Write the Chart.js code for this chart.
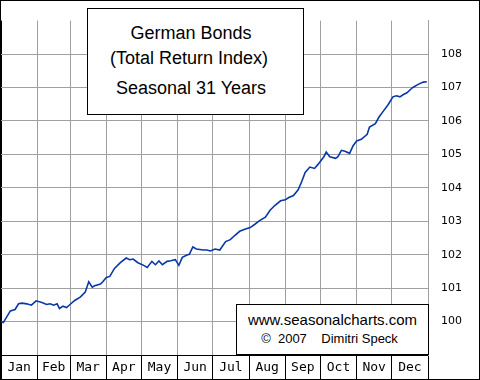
<!DOCTYPE html>
<html>
<head>
<meta charset="utf-8">
<script src="https://cdn.jsdelivr.net/npm/chart.js@4.4.0/dist/chart.umd.min.js"></script>
<style>
  body { margin: 0; background: #fff; }
  #frame { position: absolute; left: 0; top: 0; width: 480px; height: 380px; border: 1px solid #000; box-sizing: border-box; }
  #seasonalChart { display: block; }
  .box { position: absolute; background: #fff; border: 1px solid #000; box-sizing: border-box; }
  .txt { position: absolute; text-align: center; white-space: pre; font-family: "Liberation Sans", Arial, sans-serif; color: #000; }
</style>
</head>
<body>
<div id="frame"><canvas id="seasonalChart" width="478" height="378"></canvas></div>

<div class="box" style="left:87px;top:8px;width:217px;height:107px"></div>
<div class="txt" style="left:87px;width:208px;top:22px;font-size:18px;line-height:22px">German Bonds</div>
<div class="txt" style="left:87px;width:204px;top:47px;font-size:18px;line-height:22px">(Total Return Index)</div>
<div class="txt" style="left:87px;width:208px;top:77px;font-size:18px;line-height:22px">Seasonal 31 Years</div>

<div class="box" style="left:236px;top:304px;width:193px;height:51px"></div>
<div class="txt" style="left:236px;width:193px;top:311px;font-size:15px;line-height:18px">www.seasonalcharts.com</div>
<div class="txt" style="left:236px;width:187px;top:331px;font-size:13px;line-height:16px">©  2007    Dimitri Speck</div>

<script>
// month names and boundaries (day of year)
const months = ['Jan', 'Feb', 'Mar', 'Apr', 'May', 'Jun', 'Jul', 'Aug', 'Sep', 'Oct', 'Nov', 'Dec'];
const monthStarts = [0, 31, 59, 90, 120, 151, 181, 212, 243, 273, 304, 334, 365];

// y axis labels
const yTicks = [100, 101, 102, 103, 104, 105, 106, 107, 108];

// seasonal pattern
const days = [0, 2, 8, 12, 15, 18, 22, 26, 30, 35,
  39, 42, 45, 48, 50, 53, 56, 59, 63, 68,
  72, 75, 78, 80, 85, 87, 90, 93, 97, 102,
  107, 110, 113, 117, 122, 125, 129, 132, 135, 138,
  142, 145, 149, 152, 155, 159, 161, 164, 167, 173,
  176, 179, 183, 187, 192, 196, 200, 204, 209, 213,
  217, 221, 226, 230, 234, 239, 243, 246, 250, 254,
  257, 260, 264, 268, 271, 276, 278, 281, 286, 288,
  291, 294, 298, 301, 304, 308, 313, 315, 320, 323,
  327, 331, 335, 338, 341, 344, 347, 350, 352, 357,
  361, 364];
const values = [100.00, 99.97, 100.32, 100.36, 100.53, 100.55, 100.53, 100.49, 100.62, 100.57,
  100.51, 100.53, 100.49, 100.53, 100.39, 100.46, 100.42, 100.51, 100.63, 100.74,
  100.88, 101.19, 101.03, 101.07, 101.12, 101.19, 101.32, 101.35, 101.59, 101.76,
  101.90, 101.85, 101.87, 101.76, 101.68, 101.62, 101.80, 101.70, 101.81, 101.70,
  101.80, 101.82, 101.85, 101.68, 101.92, 101.99, 102.01, 102.23, 102.17, 102.14,
  102.14, 102.11, 102.17, 102.14, 102.39, 102.45, 102.58, 102.70, 102.77, 102.81,
  102.91, 103.02, 103.12, 103.33, 103.47, 103.61, 103.64, 103.71, 103.77, 103.94,
  104.18, 104.46, 104.62, 104.58, 104.70, 104.93, 105.07, 104.93, 104.88, 104.93,
  105.12, 105.09, 105.03, 105.26, 105.40, 105.45, 105.60, 105.82, 105.92, 106.11,
  106.30, 106.49, 106.72, 106.75, 106.72, 106.79, 106.84, 106.94, 107.00, 107.10,
  107.16, 107.17];

const monthMids = months.map((m, i) => (monthStarts[i] + monthStarts[i + 1]) / 2);
const isBoundary = v => monthStarts.includes(v);

const ctx = document.getElementById('seasonalChart').getContext('2d');
const seasonalChart = new Chart(ctx, {
  type: 'line',
  data: {
    datasets: [{
      data: days.map((d, i) => ({ x: d, y: values[i] })),
      borderColor: '#0838a8',
      borderWidth: 1.6,
      pointRadius: 0,
      tension: 0,
      fill: false
    }]
  },
  options: {
    responsive: false,
    devicePixelRatio: 1,
    animation: false,
    layout: { padding: 0 },
    plugins: {
      legend: { display: false },
      tooltip: { enabled: false }
    },
    scales: {
      x: {
        type: 'linear',
        position: 'bottom',
        min: 0,
        max: 365,
        afterBuildTicks: scale => {
          scale.ticks = monthStarts.concat(monthMids).sort((a, b) => a - b).map(v => ({ value: v }));
        },
        afterFit: scale => { scale.height = 24; },
        grid: {
          color: c => c.tick && c.tick.value === 0 ? '#000' : (c.tick && isBoundary(c.tick.value) ? '#a0a0a0' : 'rgba(0,0,0,0)'),
          tickColor: c => c.tick && isBoundary(c.tick.value) ? '#000' : 'rgba(0,0,0,0)',
          drawTicks: true,
          tickLength: 24,
          lineWidth: 1
        },
        border: { display: true, color: '#000', width: 1 },
        ticks: {
          autoSkip: false,
          maxRotation: 0,
          minRotation: 0,
          padding: -19,
          color: '#000',
          font: { family: '"DejaVu Sans Mono", monospace', size: 13 },
          callback: v => {
            const i = monthMids.indexOf(v);
            return i >= 0 ? months[i] : '';
          }
        }
      },
      y: {
        position: 'right',
        min: 99,
        max: 109,
        afterBuildTicks: scale => {
          scale.ticks = [99].concat(yTicks, [109]).map(v => ({ value: v }));
        },
        afterFit: scale => { scale.width = 51; },
        grid: {
          color: c => c.tick && yTicks.includes(c.tick.value) ? '#a0a0a0' : 'rgba(0,0,0,0)',
          drawTicks: false
        },
        border: { display: true, color: '#a0a0a0' },
        ticks: {
          padding: 13,
          color: '#000',
          font: { family: '"DejaVu Sans", sans-serif', size: 11 },
          callback: v => yTicks.includes(v) ? String(v) : ''
        }
      }
    }
  }
});
</script>
</body>
</html>
